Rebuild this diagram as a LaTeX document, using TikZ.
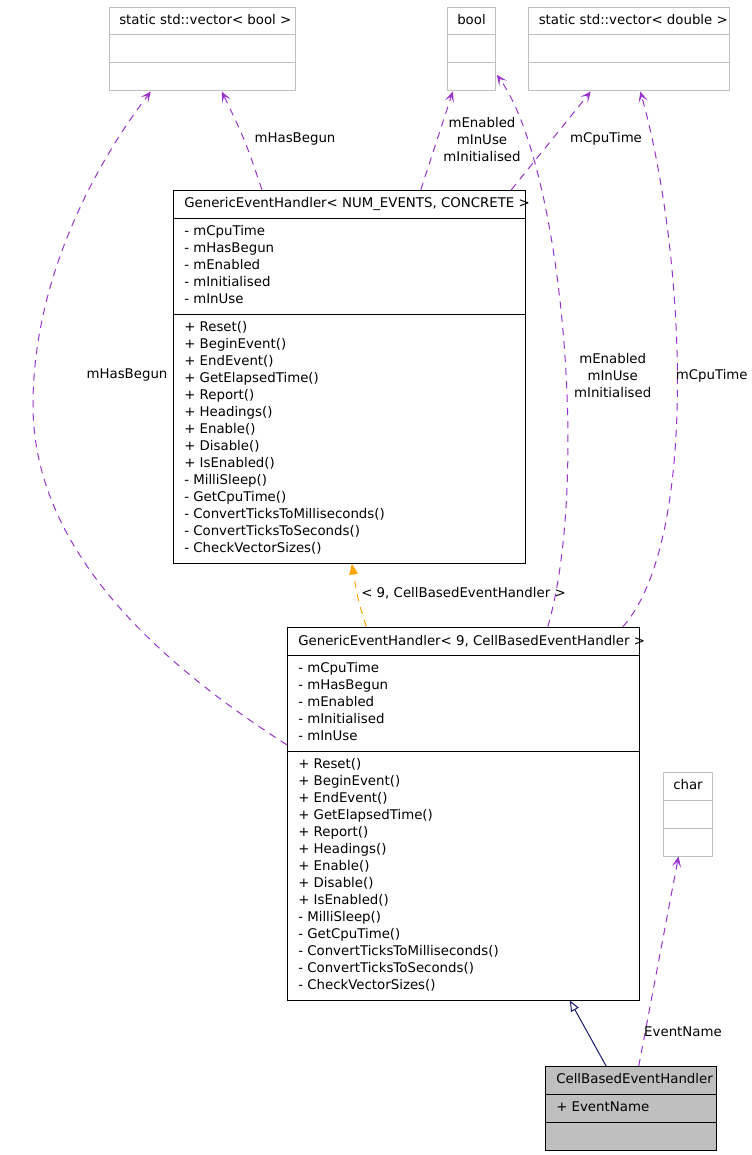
\documentclass[tikz,border=0pt]{standalone}
\usepackage{fontspec}
\setmainfont{DejaVu Sans}
\usetikzlibrary{arrows.meta, calc, fit}

\definecolor{usecol}{HTML}{9A32CD}
\definecolor{tmplcol}{HTML}{FFA500}
\definecolor{inhcol}{HTML}{191970}
\definecolor{boxgrey}{HTML}{BFBFBF}

\tikzset{
  every node/.style={font=\fontsize{10}{12.4}\selectfont, inner sep=0pt},
  classbox/.style={draw=black, line width=0.75pt, inner sep=0pt},
  extbox/.style={draw=boxgrey, line width=0.75pt, inner sep=0pt},
  member/.style={anchor=base west},
  uses/.style={draw=usecol, line width=0.75pt, dash pattern=on 5.5pt off 4.5pt,
    -{Stealth[length=8pt, width=7pt, inset=4pt]}},
  tmpl/.style={draw=tmplcol, line width=0.75pt, dash pattern=on 5.5pt off 4.5pt,
    -{Triangle[length=8pt, width=6.5pt]}},
  inherit/.style={draw=inhcol, line width=0.75pt,
    -{Triangle[open, length=8pt, width=6.5pt, fill=white]}}
}

\begin{document}
\begin{tikzpicture}[x=0.75pt, y=-0.75pt]
\useasboundingbox (0,0) rectangle (751,1155);

% 上段の型
\node[extbox, fit={(109.3,7.3) (295.5,91)}] (vecbool) {};
\draw[extbox] (109.3,35) -- (295.5,35) (109.3,63) -- (295.5,63);
\node[member] (vecboolT) at (119,24.5) {static std::vector< bool >};

\node[extbox, fit={(447.3,7.3) (495.3,91)}] (bool) {};
\draw[extbox] (447.3,35) -- (495.3,35) (447.3,63) -- (495.3,63);
\node[member] (boolT) at (457,24.5) {bool};

\node[extbox, fit={(528.3,7.3) (729.5,91)}] (vecdbl) {};
\draw[extbox] (528.3,35) -- (729.5,35) (528.3,63) -- (729.5,63);
\node[member] (vecdblT) at (538.5,24.5) {static std::vector< double >};

% テンプレート
\node[classbox, fill=white, fit={(173.3,190.3) (525.8,563.3)}] (gtmpl) {};
\draw[classbox] (173.3,218.3) -- (525.8,218.3) (173.3,314.3) -- (525.8,314.3);
\node[member] (gtmplT) at (184,208) {GenericEventHandler< NUM\_EVENTS, CONCRETE >};
\foreach \t [count=\i from 0] in {- mCpuTime, - mHasBegun, - mEnabled,
    - mInitialised, - mInUse}
  \node[member] (gtmplA\i) at (184,235.5+17*\i) {\t};
\foreach \t [count=\i from 0] in {+ Reset(), + BeginEvent(), + EndEvent(),
    + GetElapsedTime(), + Report(), + Headings(), + Enable(), + Disable(),
    + IsEnabled(), - MilliSleep(), - GetCpuTime(),
    - ConvertTicksToMilliseconds(), - ConvertTicksToSeconds(),
    - CheckVectorSizes()}
  \node[member] (gtmplM\i) at (184,331.5+17*\i) {\t};

% 具体化
\node[classbox, fill=white, fit={(287.3,627.3) (639.3,1000)}] (g9) {};
\draw[classbox] (287.3,655.3) -- (639.3,655.3) (287.3,751.3) -- (639.3,751.3);
\node[member] (g9T) at (298,645) {GenericEventHandler< 9, CellBasedEventHandler >};
\foreach \t [count=\i from 0] in {- mCpuTime, - mHasBegun, - mEnabled,
    - mInitialised, - mInUse}
  \node[member] (g9A\i) at (298,672.5+17*\i) {\t};
\foreach \t [count=\i from 0] in {+ Reset(), + BeginEvent(), + EndEvent(),
    + GetElapsedTime(), + Report(), + Headings(), + Enable(), + Disable(),
    + IsEnabled(), - MilliSleep(), - GetCpuTime(),
    - ConvertTicksToMilliseconds(), - ConvertTicksToSeconds(),
    - CheckVectorSizes()}
  \node[member] (g9M\i) at (298,768.5+17*\i) {\t};

% char と派生クラス
\node[extbox, fit={(663.3,772.7) (712.3,856)}] (charb) {};
\draw[extbox] (663.3,800.3) -- (712.3,800.3) (663.3,828.3) -- (712.3,828.3);
\node[member] (charT) at (673,789.5) {char};

\node[classbox, fill=boxgrey, fit={(545.7,1066.7) (716.5,1150)}] (cbeh) {};
\draw[classbox] (545.7,1094.3) -- (716.5,1094.3) (545.7,1122.3) -- (716.5,1122.3);
\node[member] (cbehT) at (556,1083.5) {CellBasedEventHandler};
\node[member] (cbehA0) at (556,1111.5) {+ EventName};

% 関連 (上)
\draw[uses] ($(gtmpl.north west)+(89.2,0)$) .. controls (245,140) ..
  ($(vecbool.south west)+(113,0)$);
\node (lHas1) at (295,139) {mHasBegun};
\draw[uses] ($(gtmpl.north west)+(248,0)$) -- ($(bool.south west)+(6,0)$);
\node[align=center] (lFlag1) at (482,139.5) {mEnabled\\mInUse\\mInitialised};
\draw[uses] ($(gtmpl.north west)+(338.5,0)$) -- ($(vecdbl.south west)+(63,0)$);
\node (lCpu1) at (606,139) {mCpuTime};

% 関連 (下)
\draw[uses] ($(g9.north west)+(0,118)$) .. controls (167,668) and (33,555) ..
  (33,405) .. controls (33,275) and (99,159) .. ($(vecbool.south west)+(42,0)$);
\node (lHas2) at (127,375.5) {mHasBegun};
\draw[uses] ($(g9.north west)+(261,0)$) .. controls (590,480) and (562,165) ..
  ($(bool.north east)+(1,68)$);
\node[align=center] (lFlag2) at (612.7,375.5) {mEnabled\\mInUse\\mInitialised};
\draw[uses] ($(g9.north west)+(336,0)$) .. controls (700,540) and (685,250) ..
  ($(vecdbl.south west)+(112.5,0)$);
\node (lCpu2) at (711.7,375.5) {mCpuTime};

% テンプレート引数
\draw[tmpl] ($(g9.north west)+(79.5,0)$) .. controls (358,600) ..
  ($(gtmpl.south west)+(179,0)$);
\node (lArg) at (463.5,593) {< 9, CellBasedEventHandler >};

% 継承と EventName
\draw[inherit] ($(cbeh.north west)+(61,0)$) -- ($(g9.south west)+(283,0)$);
\draw[uses] ($(cbeh.north west)+(93.5,0)$) -- ($(charb.south west)+(15.7,0)$);
\node (lEvt) at (683,1031.5) {EventName};

\end{tikzpicture}
\end{document}
